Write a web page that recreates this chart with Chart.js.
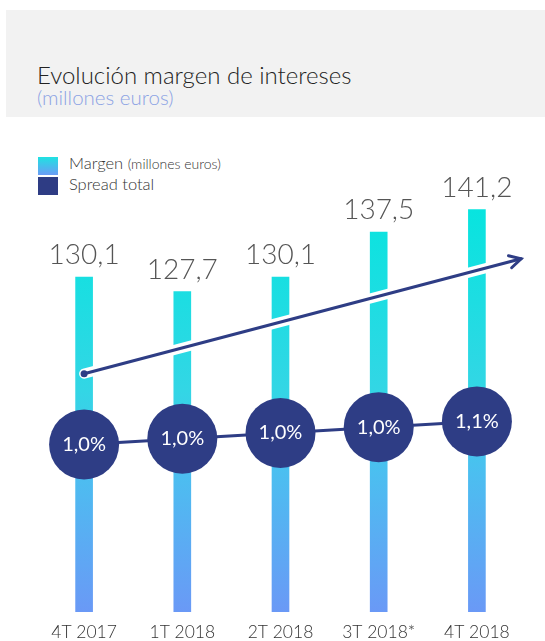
<!DOCTYPE html>
<html>
<head>
<meta charset="utf-8">
<script src="https://cdn.jsdelivr.net/npm/chart.js@4.4.1/dist/chart.umd.min.js"></script>
<style>
  html, body { margin: 0; padding: 0; background: #fff; }
  body { width: 545px; height: 641px; position: relative; overflow: hidden; font-family: Lato, "Open Sans", sans-serif; }
  #header { position: absolute; left: 6px; top: 10px; right: 0; height: 107px; background: #f2f2f2; }
  #title { position: absolute; left: 37px; top: 61px; font-size: 24px; font-weight: 300; color: #222; white-space: nowrap; line-height: 1.2; }
  #subtitle { position: absolute; left: 37px; top: 85px; font-size: 20.5px; font-weight: 300; color: #8ca3e4; white-space: nowrap; line-height: 1.2; }
  .sw { position: absolute; left: 38px; width: 20px; height: 18px; }
  #sw1 { top: 157px; background: linear-gradient(#1fe2e2, #6b9cf5); }
  #sw2 { top: 177px; background: #2e3c84; }
  .lg { position: absolute; left: 69px; font-size: 16.5px; font-weight: 300; color: #333; white-space: nowrap; line-height: 1.2; }
  .lg small { font-size: 14px; }
  #chart { position: absolute; left: 0; top: 0; }
</style>
</head>
<body>
<div id="header"></div>
<div id="title">Evolución margen de intereses</div>
<div id="subtitle">(millones euros)</div>
<div class="sw" id="sw1"></div>
<div class="sw" id="sw2"></div>
<div class="lg" style="top:154px">Margen <small>(millones euros)</small></div>
<div class="lg" style="top:175px">Spread total</div>
<canvas id="chart" width="545" height="653"></canvas>
<script>
const categories = ['4T 2017', '1T 2018', '2T 2018', '3T 2018*', '4T 2018'];
const margen = [130.1, 127.7, 130.1, 137.5, 141.2];
const spread = [0.98, 1.00, 1.02, 1.04, 1.06];
// trend arrow in data units: [category index, margen value]
const trendFrom = [0, 114.2];
const trendTo = [4.45, 133.1];

const navy = '#2e3d85';

function fmt(v) {
    return v.toFixed(1).replace('.', ',');
}

const labelsPlugin = {
    id: 'labels',
    afterDatasetDraw(chart, args) {
        const ctx = chart.ctx;
        if (args.index === 0) {
            // value labels above bars
            ctx.save();
            ctx.font = '300 28px Lato';
            ctx.fillStyle = '#555';
            ctx.textAlign = 'center';
            ctx.textBaseline = 'alphabetic';
            args.meta.data.forEach(function(bar, i) {
                ctx.fillText(fmt(margen[i]), bar.x, bar.y - 13);
            });
            ctx.restore();

            // trend arrow
            const x = chart.scales.x, y = chart.scales.y;
            const x1 = x.getPixelForValue(trendFrom[0]), y1 = y.getPixelForValue(trendFrom[1]);
            const x2 = x.getPixelForValue(trendTo[0]), y2 = y.getPixelForValue(trendTo[1]);
            const ang = Math.atan2(y2 - y1, x2 - x1);
            ctx.save();
            ctx.lineCap = 'round';
            ctx.strokeStyle = '#fff';
            ctx.lineWidth = 10;
            ctx.beginPath(); ctx.moveTo(x1, y1); ctx.lineTo(x2, y2); ctx.stroke();
            ctx.strokeStyle = navy;
            ctx.lineWidth = 3;
            ctx.beginPath(); ctx.moveTo(x1, y1); ctx.lineTo(x2, y2); ctx.stroke();
            ctx.beginPath();
            ctx.moveTo(x2 - 13 * Math.cos(ang - 0.5), y2 - 13 * Math.sin(ang - 0.5));
            ctx.lineTo(x2, y2);
            ctx.lineTo(x2 - 13 * Math.cos(ang + 0.5), y2 - 13 * Math.sin(ang + 0.5));
            ctx.stroke();
            ctx.fillStyle = navy;
            ctx.beginPath(); ctx.arc(x1, y1, 3.5, 0, Math.PI * 2); ctx.fill();
            ctx.restore();
        }
        if (args.index === 1) {
            ctx.save();
            ctx.font = '20px Lato';
            ctx.fillStyle = '#fff';
            ctx.textAlign = 'center';
            ctx.textBaseline = 'middle';
            args.meta.data.forEach(function(pt, i) {
                ctx.fillText(fmt(spread[i]) + '%', pt.x, pt.y);
            });
            ctx.restore();
        }
    }
};

const ctx = document.getElementById('chart').getContext('2d');
new Chart(ctx, {
    type: 'bar',
    data: {
        labels: categories,
        datasets: [
            {
                label: 'Margen (millones euros)',
                data: margen,
                order: 1,
                barThickness: 17,
                backgroundColor: function(c) {
                    const a = c.chart.chartArea;
                    if (!a) return '#3fd0e8';
                    const top = c.chart.scales.y.getPixelForValue(141.2);
                    const g = c.chart.ctx.createLinearGradient(0, top, 0, a.bottom);
                    g.addColorStop(0, '#08e4df');
                    g.addColorStop(0.45, '#33d6e5');
                    g.addColorStop(0.65, '#4bbff0');
                    g.addColorStop(1, '#6a99f6');
                    return g;
                }
            },
            {
                type: 'line',
                label: 'Spread total',
                data: spread,
                yAxisID: 'y2',
                order: 0,
                borderColor: navy,
                borderWidth: 3,
                backgroundColor: navy,
                pointRadius: 35,
                pointBorderWidth: 0,
                pointBackgroundColor: navy,
                tension: 0
            }
        ]
    },
    options: {
        responsive: false,
        animation: false,
        layout: { autoPadding: false, padding: { left: 35, right: 19, top: 150, bottom: 0 } },
        plugins: { legend: { display: false }, tooltip: { enabled: false } },
        scales: {
            x: {
                grid: { display: false, drawTicks: false },
                border: { display: false },
                ticks: { color: '#333', font: { family: 'Lato', size: 17.5, weight: '300' }, padding: 10 }
            },
            y: { display: false, min: 75, max: 151 },
            y2: { display: false, min: 0.4, max: 2.0 }
        }
    },
    plugins: [labelsPlugin]
});
</script>
</body>
</html>
